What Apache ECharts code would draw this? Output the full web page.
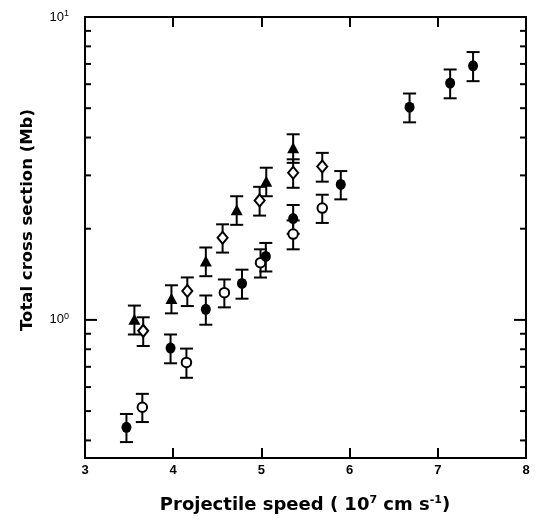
<!DOCTYPE html>
<html><head><meta charset="utf-8">
<script src="https://cdn.jsdelivr.net/npm/echarts@6/dist/echarts.min.js"></script>
<style>html,body{margin:0;padding:0;background:#fff}#c{width:536px;height:529px}</style>
</head><body><div id="c"></div>
<script>
// ---- data ----
const xMin = 3, xMax = 8, xInterval = 1;
const yMin = 0.35, yMax = 10;
const yMajorTicks = [1];
const yMinorTicks = [0.4, 0.5, 0.6, 0.7, 0.8, 0.9, 2, 3, 4, 5, 6, 7, 8, 9];

const filledCircleX = [3.47, 3.97, 4.37, 4.78, 5.05, 5.36, 5.90, 6.68, 7.14, 7.40];
const filledCircleY = [0.442, 0.807, 1.084, 1.32, 1.62, 2.16, 2.80, 5.04, 6.05, 6.90];
const filledCircleErr = [0.047, 0.088, 0.12, 0.145, 0.175, 0.235, 0.30, 0.55, 0.66, 0.76];

const openCircleX = [3.65, 4.15, 4.58, 4.99, 5.36, 5.69];
const openCircleY = [0.515, 0.724, 1.23, 1.545, 1.92, 2.34];
const openCircleErr = [0.055, 0.08, 0.13, 0.165, 0.21, 0.25];

const triangleX = [3.56, 3.98, 4.37, 4.72, 5.055, 5.36];
const triangleY = [1.005, 1.176, 1.564, 2.31, 2.87, 3.70];
const triangleErr = [0.11, 0.125, 0.17, 0.25, 0.31, 0.40];

const diamondX = [3.66, 4.16, 4.56, 4.98, 5.36, 5.69];
const diamondY = [0.92, 1.246, 1.868, 2.48, 3.06, 3.21];
const diamondErr = [0.10, 0.135, 0.20, 0.27, 0.33, 0.35];

// ---- helpers ----
const FONT = "'Liberation Sans', Arial, Helvetica, sans-serif";
const TFONT = "'DejaVu Sans', 'Liberation Sans', Arial, sans-serif";
function pts(xs, ys) { return xs.map((x, i) => [x, ys[i]]); }
function errPts(xs, ys, es) { return xs.map((x, i) => [x, ys[i], es[i]]); }

function errRender(params, api) {
  const x = api.value(0), y = api.value(1), e = api.value(2);
  const top = api.coord([x, y + e]);
  const bot = api.coord([x, y - e]);
  const cap = 6.5;
  const st = { stroke: '#000', lineWidth: 2 };
  return { type: 'group', children: [
    { type: 'line', shape: { x1: top[0], y1: top[1], x2: bot[0], y2: bot[1] }, style: st },
    { type: 'line', shape: { x1: top[0] - cap, y1: top[1], x2: top[0] + cap, y2: top[1] }, style: st },
    { type: 'line', shape: { x1: bot[0] - cap, y1: bot[1], x2: bot[0] + cap, y2: bot[1] }, style: st }
  ]};
}
function tickRender(len) {
  return function (params, api) {
    const v = api.value(1);
    const l = api.coord([xMin, v]);
    const r = api.coord([xMax, v]);
    const st = { stroke: '#000', lineWidth: 2 };
    return { type: 'group', children: [
      { type: 'line', shape: { x1: l[0], y1: l[1], x2: l[0] + len, y2: l[1] }, style: st },
      { type: 'line', shape: { x1: r[0], y1: r[1], x2: r[0] - len, y2: r[1] }, style: st }
    ]};
  };
}
function errSeries(xs, ys, es) {
  return { type: 'custom', renderItem: errRender, data: errPts(xs, ys, es),
    encode: { x: 0, y: 1 }, z: 2, silent: true, clip: false };
}

const chart = echarts.init(document.getElementById('c'), null, { renderer: 'canvas' });
const axisLine = { show: true, lineStyle: { color: '#000', width: 2 } };
chart.setOption({
  animation: false,
  backgroundColor: '#fff',
  grid: { left: 85, right: 10, top: 17, bottom: 71 },
  xAxis: [
    { type: 'value', min: xMin, max: xMax, interval: xInterval, position: 'bottom',
      axisLine, splitLine: { show: false },
      axisTick: { show: true, inside: true, length: 10, lineStyle: { color: '#000', width: 2 } },
      axisLabel: { color: '#000', fontFamily: FONT, fontWeight: 'bold', fontSize: 13, margin: 6 } },
    { type: 'value', min: xMin, max: xMax, interval: xInterval, position: 'top',
      axisLine, splitLine: { show: false },
      axisTick: { show: true, inside: true, length: 10, lineStyle: { color: '#000', width: 2 } },
      axisLabel: { show: false } }
  ],
  yAxis: [
    { type: 'log', logBase: 10, min: yMin, max: yMax, position: 'left',
      axisLine, splitLine: { show: false }, axisTick: { show: false },
      axisLabel: { color: '#000', fontFamily: FONT, fontSize: 13, margin: 16,
        showMinLabel: true, showMaxLabel: true,
        formatter: function (v) {
          const p = Math.log10(v);
          if (Math.abs(p - Math.round(p)) < 1e-6) return '10{sup|' + Math.round(p) + '}';
          return '';
        },
        rich: { sup: { fontSize: 9, fontFamily: FONT, color: '#000', padding: [0, 0, 7, 0] } } } },
    { type: 'log', logBase: 10, min: yMin, max: yMax, position: 'right',
      axisLine, splitLine: { show: false }, axisTick: { show: false }, axisLabel: { show: false } }
  ],
  graphic: [
    { type: 'text', x: 305, y: 505, style: {
        text: 'Projectile speed ( 10{sup|7} cm s{sup|-1})',
        font: "bold 18px " + TFONT, fill: '#000', align: 'center', verticalAlign: 'middle',
        rich: { sup: { fontSize: 11, fontWeight: 'bold', fontFamily: TFONT, fill: '#000', padding: [0, 0, 10, 0] } } } },
    { type: 'text', rotation: Math.PI / 2, x: 28, y: 220, style: {
        text: 'Total cross section (Mb)', font: "bold 16.5px " + TFONT, fill: '#000',
        align: 'center', verticalAlign: 'middle' } }
  ],
  series: [
    { type: 'custom', renderItem: tickRender(6), data: yMinorTicks.map(v => [xMin, v]),
      encode: { x: 0, y: 1 }, z: 1, silent: true, clip: false },
    { type: 'custom', renderItem: tickRender(12), data: yMajorTicks.map(v => [xMin, v]),
      encode: { x: 0, y: 1 }, z: 1, silent: true, clip: false },
    errSeries(diamondX, diamondY, diamondErr),
    errSeries(openCircleX, openCircleY, openCircleErr),
    errSeries(filledCircleX, filledCircleY, filledCircleErr),
    errSeries(triangleX, triangleY, triangleErr),
    { type: 'scatter', data: pts(diamondX, diamondY), symbol: 'diamond', symbolSize: [10, 12], z: 3,
      itemStyle: { color: '#fff', borderColor: '#000', borderWidth: 2, opacity: 1 } },
    { type: 'scatter', data: pts(openCircleX, openCircleY), symbol: 'circle', symbolSize: 9.5, z: 3,
      itemStyle: { color: '#fff', borderColor: '#000', borderWidth: 2, opacity: 1 } },
    { type: 'scatter', data: pts(filledCircleX, filledCircleY), symbol: 'circle', symbolSize: [10, 11], z: 3,
      itemStyle: { color: '#000', opacity: 1 } },
    { type: 'scatter', data: pts(triangleX, triangleY), symbol: 'triangle', symbolSize: [12, 11], z: 3,
      itemStyle: { color: '#000', opacity: 1 } }
  ]
});
</script></body></html>
